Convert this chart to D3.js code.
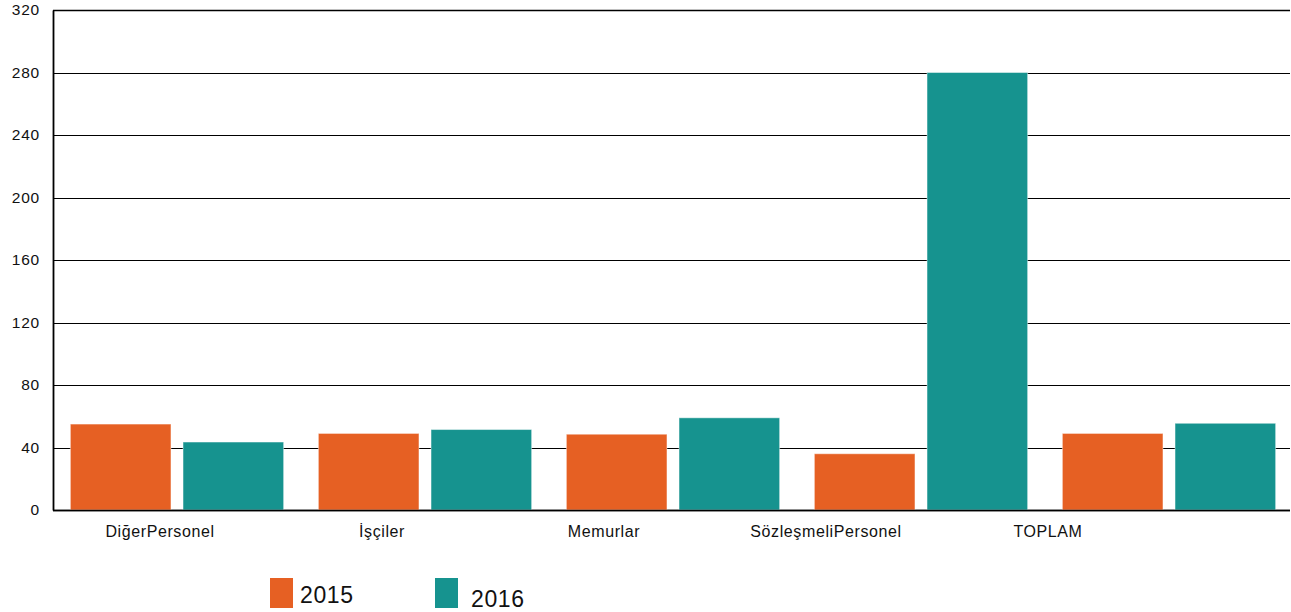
<!DOCTYPE html>
<html>
<head>
<meta charset="utf-8">
<script src="https://cdnjs.cloudflare.com/ajax/libs/d3/7.8.5/d3.min.js"></script>
<style>
  body { margin: 0; background: #fff; }
  text { font-family: "Liberation Sans", Arial, sans-serif; fill: #111; }
</style>
</head>
<body>
<svg id="chart" width="1291" height="612"></svg>
<script>
// data
var categories = ["DiğerPersonel", "İşçiler", "Memurlar", "SözleşmeliPersonel", "TOPLAM"];
var series = ["2015", "2016"];
var values2015 = [55, 49, 48.5, 36, 49];
var values2016 = [43.5, 51.5, 59, 280, 55.5];
var yTicks = [0, 40, 80, 120, 160, 200, 240, 280, 320];
var colors = ["#E66023", "#16938F"];

var svg = d3.select("#chart");
var margin = { top: 10, left: 53, bottom: 102, right: 1 };
var width = +svg.attr("width"), height = +svg.attr("height");

var data = categories.map(function (c, i) {
  return { cat: c, "2015": values2015[i], "2016": values2016[i] };
});

var y = d3.scaleLinear().domain([0, 320]).range([height - margin.bottom, margin.top]);

// groups step a little wider than the plot, as in the reference
var x0 = d3.scaleBand().domain(categories)
  .range([margin.left, 1293])
  .paddingInner(0.14).paddingOuter(0.07);

var x1 = d3.scaleBand().domain(series)
  .range([0, x0.bandwidth()])
  .paddingInner(0.107).paddingOuter(0);

// labels in the reference sit on their own, tighter spacing
var xl = d3.scaleBand().domain(categories).range([49, 1159]);

var color = d3.scaleOrdinal().domain(series).range(colors);

// gridlines
svg.append("g").selectAll("line")
  .data(yTicks)
  .enter().append("line")
  .attr("x1", margin.left).attr("x2", width - margin.right)
  .attr("y1", d => Math.round(y(d)) + 0.5).attr("y2", d => Math.round(y(d)) + 0.5)
  .attr("stroke", "#000")
  .attr("stroke-width", d => (d == 0 || d == 320) ? 1.6 : 1);

// bars
var group = svg.append("g").selectAll("g")
  .data(data)
  .enter().append("g")
  .attr("transform", d => `translate(${x0(d.cat)},0)`);

group.selectAll("rect")
  .data(d => series.map(k => ({ key: k, value: d[k] })))
  .enter().append("rect")
  .attr("x", d => x1(d.key))
  .attr("width", x1.bandwidth())
  .attr("y", d => y(d.value))
  .attr("height", d => y(0) - y(d.value))
  .attr("fill", d => color(d.key))
  .attr("stroke", "rgba(255,255,255,0.45)")
  .attr("stroke-width", 1);

// zero baseline on top of bars
svg.append("line")
  .attr("x1", margin.left).attr("x2", width - margin.right)
  .attr("y1", y(0) + 0.5).attr("y2", y(0) + 0.5)
  .attr("stroke", "#000").attr("stroke-width", 1.6);

// y axis
var yAxis = svg.append("g")
  .attr("transform", `translate(${margin.left},0)`)
  .call(d3.axisLeft(y).tickValues(yTicks).tickSize(0).tickPadding(13));
yAxis.select(".domain").attr("stroke", "#000").attr("stroke-width", 1.8);
yAxis.selectAll("text")
  .style("font-size", "15.5px")
  .style("letter-spacing", "0.8px")
  .attr("fill", "#111");

// category labels
svg.append("g").selectAll("text")
  .data(categories)
  .enter().append("text")
  .attr("x", d => xl(d) + xl.bandwidth() / 2)
  .attr("y", 537)
  .attr("text-anchor", "middle")
  .style("font-size", "16px")
  .style("letter-spacing", "0.6px")
  .text(d => d);

// legend
var legendX = [270, 435];
var legendTextY = [603, 607];
var legend = svg.append("g").selectAll("g")
  .data(series)
  .enter().append("g")
  .attr("transform", (d, i) => `translate(${legendX[i]},578)`);

legend.append("rect")
  .attr("width", 23).attr("height", 30)
  .attr("fill", d => color(d));

legend.append("text")
  .attr("x", (d, i) => i == 0 ? 30 : 36)
  .attr("y", (d, i) => legendTextY[i] - 578)
  .style("font-size", "23px")
  .style("letter-spacing", "0.6px")
  .text(d => d);
</script>
</body>
</html>
